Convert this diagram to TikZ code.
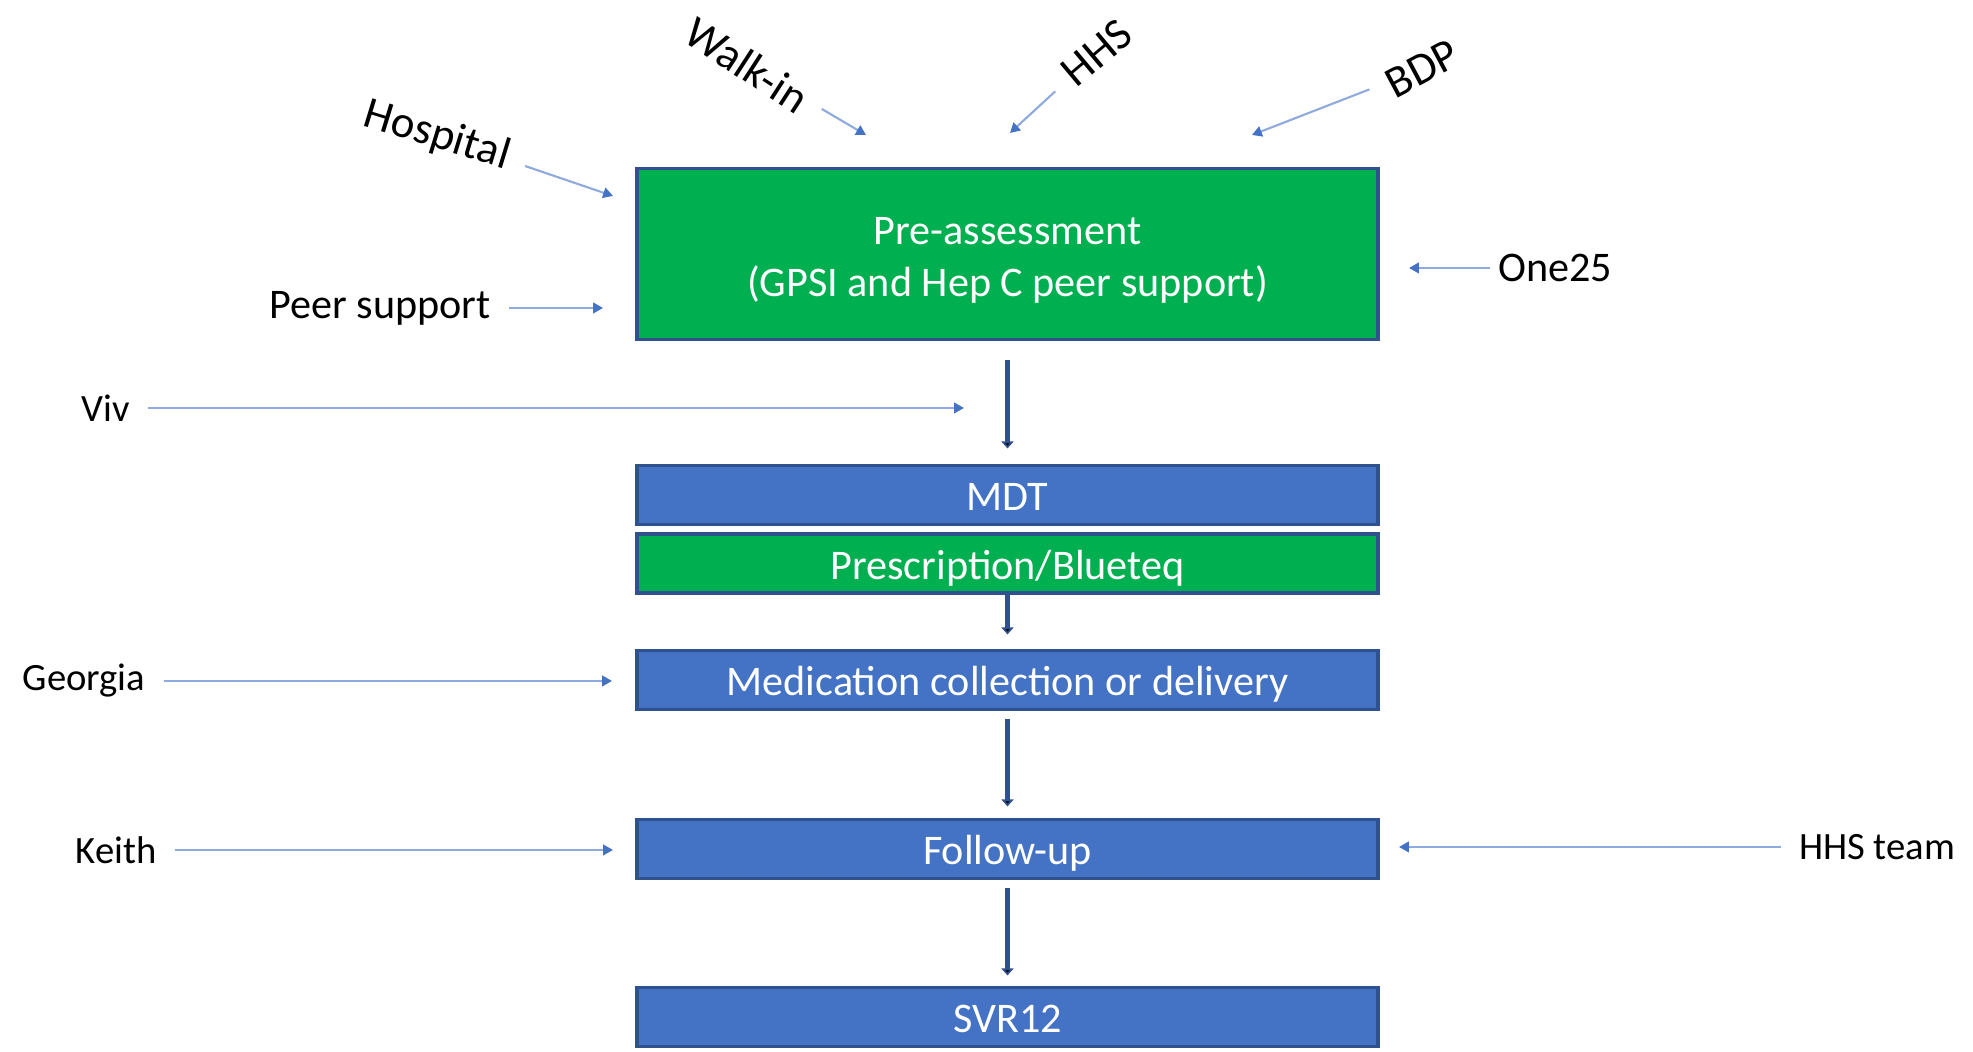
\documentclass[tikz,border=0pt]{standalone}
\usepackage{fontspec}
\setmainfont{Carlito}
\usepackage{tikz}
\usetikzlibrary{ % tikz packages
    positioning,
    arrows.meta
}
\definecolor{boxgreen}{HTML}{00B050}
\definecolor{boxblue}{HTML}{4472C4}
\definecolor{boxedge}{HTML}{2F528F}
\definecolor{feedline}{HTML}{8FAADC}
\tikzset{stage/.style={
    draw=boxedge,
    line width=0.9pt,
    text=white,
    minimum width=7.41cm,
    minimum height=0.59cm,
    inner sep=0pt,
    outer sep=0pt,
    text height=9pt,
    text depth=0pt,
    font=\fontsize{12}{14.8}\selectfont,
    align=center
}}
\tikzset{source/.style={
    inner sep=5pt,
    font=\fontsize{11}{13}\selectfont
}}
\tikzset{tilted/.style={
    source,
    font=\fontsize{12.8}{15}\selectfont
}}
\tikzset{feed/.style={
    draw=feedline,
    line width=0.6pt,
    -{Triangle[length=2.8pt,width=3pt,color=boxblue]}
}}
\tikzset{flow/.style={
    draw=boxedge,
    line width=1.5pt,
    -{Triangle[length=2pt,width=3.4pt]}
}}

\begin{document}
\begin{tikzpicture}[node distance=1.26cm]
        \useasboundingbox (0,0) rectangle (19.73,10.52);

        % the care pathway, top to bottom
        \node[stage, fill=boxgreen, minimum height=1.71cm, text height=24pt] (pre) at (10.075,7.98)
            {Pre-assessment\\(GPSI and Hep C peer support)};
        \node[stage, fill=boxblue] (mdt) [below=of pre] {MDT};
        \node[stage, fill=boxgreen] (presc) [below=0.095cm of mdt] {Prescription/Blueteq};
        \node[stage, fill=boxblue] (med) [below=0.575cm of presc] {Medication collection or delivery};
        \node[stage, fill=boxblue] (follow) [below=1.1cm of med] {Follow-up};
        \node[stage, fill=boxblue] (svr) [below=1.09cm of follow] {SVR12};

        \path[flow]
            (pre)
                edge[shorten <=0.21cm, shorten >=0.17cm] (mdt)
            (presc)
                edge[shorten >=0.16cm] (med)
            (med)
                edge[shorten <=0.1cm, shorten >=0.13cm] (follow)
            (follow)
                edge[shorten <=0.1cm, shorten >=0.12cm] (svr);

        % referral routes in
        \node[tilted, rotate=-17] (hosp) at (4.37,9.16) {Hospital};
        \node[tilted, rotate=-33] (walk) at (7.47,9.87) {Walk-in};
        \node[tilted, rotate=40] (hhs) at (10.97,9.99) {HHS};
        \node[tilted, rotate=28] (bdp) at (14.22,9.83) {BDP};
        \node[source, font=\fontsize{12}{14}\selectfont] (peer) at (3.80,7.44) {Peer support};
        \node[source, font=\fontsize{12}{14}\selectfont, inner sep=2pt] (one25) at (15.55,7.84) {One25};

        \coordinate (hospIn) at (6.13,8.56);
        \coordinate (walkIn) at (8.66,9.17);
        \coordinate (hhsIn) at (10.10,9.19);
        \coordinate (bdpIn) at (12.52,9.17);

        \draw[feed] (hosp) -- (hospIn);
        \draw[feed] (walk) -- (walkIn);
        \draw[feed] (hhs) -- (hhsIn);
        \draw[feed] (bdp) -- (bdpIn);
        \draw[feed, shorten >=0.34cm] (peer) -- (peer -| pre.west);
        \draw[feed, shorten >=0.31cm] (one25) -- (one25 -| pre.east);

        % support along the way
        \node[source] (viv) at (1.06,6.44) {Viv};
        \node[source] (georgia) at (0.84,3.71) {Georgia};
        \node[source] (keith) at (1.16,2.02) {Keith};
        \node[source] (hhsteam) at (18.77,2.05) {HHS team};

        \coordinate (vivIn) at (9.64,6.44);

        \draw[feed] (viv) -- (vivIn);
        \draw[feed, shorten >=0.25cm] (georgia) -- (georgia -| med.west);
        \draw[feed, shorten >=0.24cm] (keith) -- (keith -| follow.west);
        \draw[feed, shorten >=0.21cm] (hhsteam) -- (hhsteam -| follow.east);
    \end{tikzpicture}
\end{document}
